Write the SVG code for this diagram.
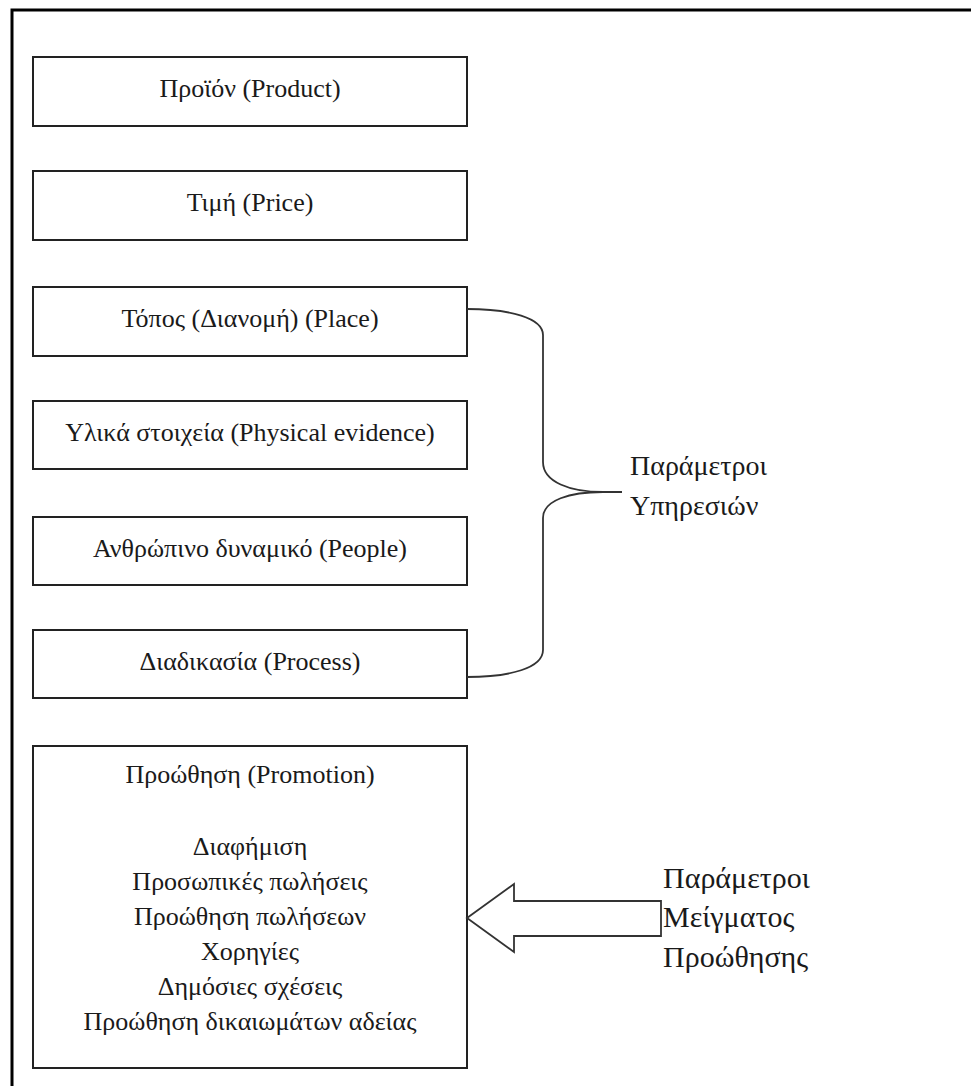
<svg xmlns="http://www.w3.org/2000/svg" width="971" height="1086" viewBox="0 0 971 1086">
<style>
.box{fill:#fff;stroke:#222;stroke-width:2}
.t{font-family:"Liberation Serif","Times New Roman",serif;font-size:26px;fill:#1a1a1a;text-anchor:middle}
.lbl{font-family:"Liberation Serif","Times New Roman",serif;fill:#1a1a1a}
.frame{stroke:#000;stroke-width:3;fill:none}
.conn{fill:none;stroke:#333;stroke-width:1.8}
</style>
<rect width="971" height="1086" fill="#fff"/>
<path class="frame" d="M12,1086 V10 H971"/>
<g id="product"><rect class="box" x="33" y="57" width="434" height="69"/><text class="t" x="250" y="97">Προϊόν (Product)</text></g>
<g id="price"><rect class="box" x="33" y="171" width="434" height="69"/><text class="t" x="250" y="211">Τιμή (Price)</text></g>
<g id="place"><rect class="box" x="33" y="287" width="434" height="69"/><text class="t" x="250" y="327">Τόπος (Διανομή) (Place)</text></g>
<g id="physical"><rect class="box" x="33" y="401" width="434" height="68"/><text class="t" x="250" y="441">Υλικά στοιχεία (Physical evidence)</text></g>
<g id="people"><rect class="box" x="33" y="517" width="434" height="68"/><text class="t" x="250" y="557">Ανθρώπινο δυναμικό (People)</text></g>
<g id="process"><rect class="box" x="33" y="630" width="434" height="68"/><text class="t" x="250" y="670">Διαδικασία (Process)</text></g>
<g id="promotion"><rect class="box" x="33" y="746" width="434" height="322"/>
<text class="t" x="250" y="783">Προώθηση (Promotion)</text>
<text class="t" x="250" y="855">Διαφήμιση</text>
<text class="t" x="250" y="890">Προσωπικές πωλήσεις</text>
<text class="t" x="250" y="925">Προώθηση πωλήσεων</text>
<text class="t" x="250" y="960">Χορηγίες</text>
<text class="t" x="250" y="995">Δημόσιες σχέσεις</text>
<text class="t" x="250" y="1030">Προώθηση δικαιωμάτων αδείας</text>
</g>
<g id="services-label"><text class="lbl" font-size="28" x="630" y="475">Παράμετροι</text><text class="lbl" font-size="28" x="630" y="515">Υπηρεσιών</text></g>
<g id="promo-mix-label"><text class="lbl" font-size="30" x="663" y="888">Παράμετροι</text><text class="lbl" font-size="30" x="663" y="927">Μείγματος</text><text class="lbl" font-size="30" x="663" y="967">Προώθησης</text></g>
<g id="connectors">
<path class="conn" d="M467,309 C510,309 543,318 543,335 V462 C543,482 570,492 603,492 H622"/>
<path class="conn" d="M603,492 C570,492 543,500 543,518 V650 C543,668 510,677 467,677"/>
<path class="conn" d="M467,918 L514,884 V901 H661 V936 H514 V952 Z" fill="#fff"/>
</g>
</svg>
